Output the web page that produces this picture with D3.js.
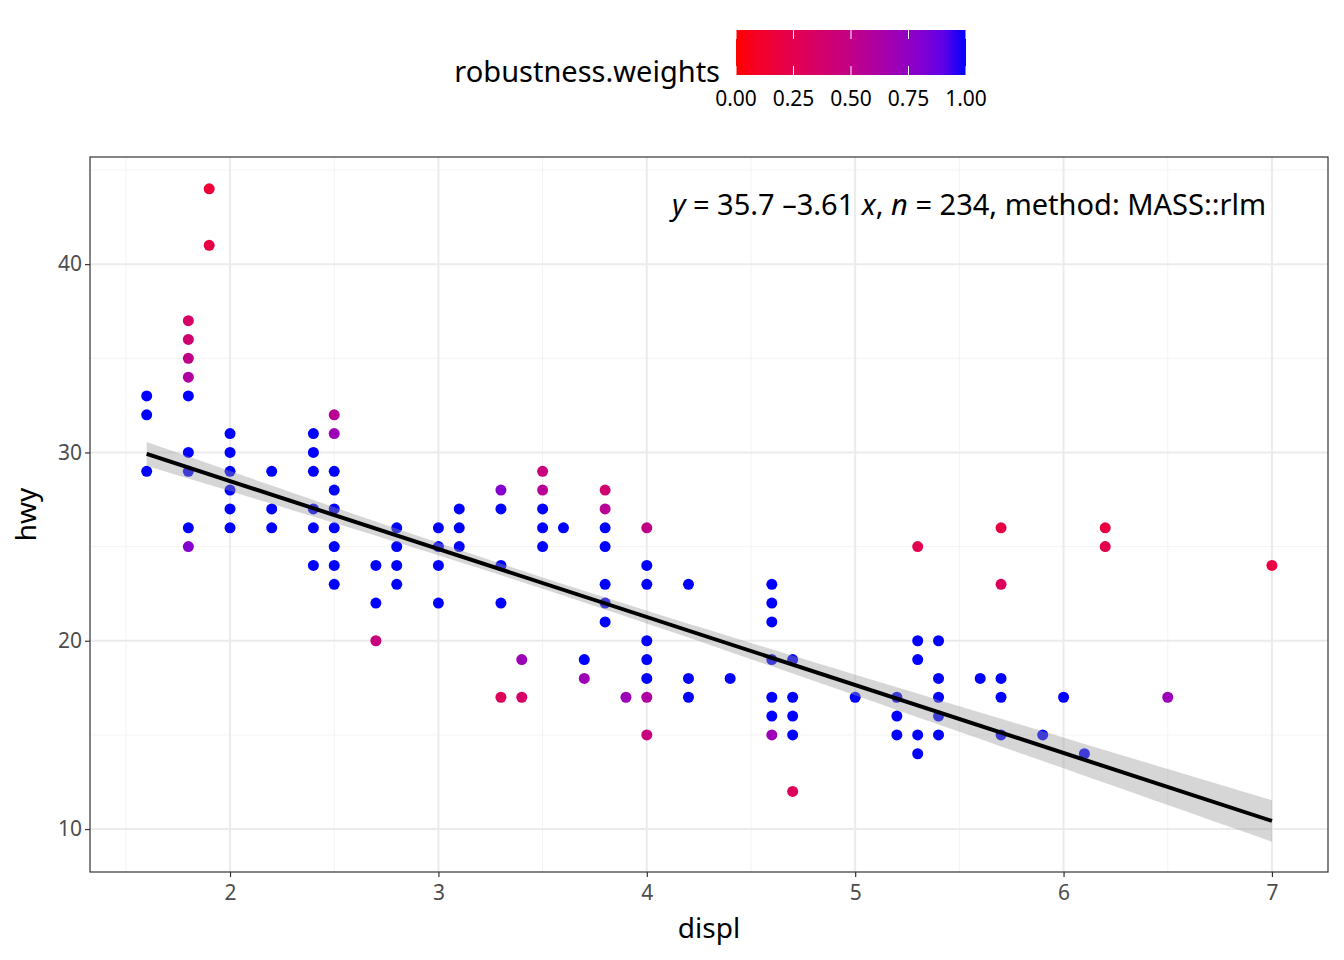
<!DOCTYPE html>
<html><head><meta charset="utf-8">
<script src="https://cdn.jsdelivr.net/npm/d3@7"></script>
<style>body{margin:0;background:#fff}text{font-family:"Noto Sans",sans-serif}</style>
</head><body><svg id="c" width="1344" height="960"></svg>
<script>
// displ, hwy, robustness weight
var displ = [1.6,1.6,1.6, 1.8,1.8,1.8,1.8,1.8,1.8,1.8,1.8,1.8, 1.9,1.9,
  2,2,2,2,2,2, 2.2,2.2,2.2, 2.4,2.4,2.4,2.4,2.4,2.4,
  2.5,2.5,2.5,2.5,2.5,2.5,2.5,2.5,2.5, 2.7,2.7,2.7, 2.8,2.8,2.8,2.8,
  3,3,3,3, 3.1,3.1,3.1, 3.3,3.3,3.3,3.3,3.3, 3.4,3.4, 3.5,3.5,3.5,3.5,3.5,
  3.6, 3.7,3.7, 3.8,3.8,3.8,3.8,3.8,3.8,3.8, 3.9,
  4,4,4,4,4,4,4,4, 4.2,4.2,4.2, 4.4, 4.6,4.6,4.6,4.6,4.6,4.6,4.6,
  4.7,4.7,4.7,4.7,4.7, 5, 5.2,5.2,5.2, 5.3,5.3,5.3,5.3,5.3,
  5.4,5.4,5.4,5.4,5.4, 5.6, 5.7,5.7,5.7,5.7,5.7, 5.9, 6, 6.1, 6.2,6.2, 6.5, 7];
var hwy = [33,32,29, 37,36,35,34,33,30,29,26,25, 44,41,
  31,30,29,28,27,26, 29,27,26, 31,30,29,27,26,24,
  32,31,29,28,27,26,25,24,23, 24,22,20, 26,25,24,23,
  26,25,24,22, 27,26,25, 28,27,24,22,17, 19,17, 29,28,27,26,25,
  26, 19,18, 28,27,26,25,23,22,21, 17,
  26,24,23,20,19,18,17,15, 23,18,17, 18, 23,22,21,19,17,16,15,
  19,17,16,15,12, 17, 17,16,15, 25,20,19,15,14,
  20,18,17,16,15, 18, 26,23,18,17,15, 15, 17, 14, 26,25, 17, 24];
var weight = [1,1,1, 0.35,0.4,0.5,0.6,1,1,1,1,0.8, 0.15,0.2,
  1,1,1,1,1,1, 1,1,1, 1,1,1,1,1,1,
  0.55,0.7,1,1,1,1,1,1,1, 1,1,0.45, 1,1,1,1,
  1,1,1,1, 1,1,1, 0.8,1,1,1,0.3, 0.7,0.35, 0.45,0.55,1,1,1,
  1, 1,0.7, 0.4,0.55,1,1,1,1,1, 0.7,
  0.5,1,1,1,1,1,0.6,0.45, 1,1,1, 1, 1,1,1,1,1,1,0.7,
  1,1,1,1,0.3, 1, 1,1,1, 0.25,1,1,1,1,
  1,1,1,1,1, 1, 0.2,0.3,1,1,1, 1, 1, 1, 0.2,0.25, 0.7, 0.2];
var fitIntercept = 35.7, fitSlope = -3.61;
var xTicks = [2,3,4,5,6,7], yTicks = [10,20,30,40];
var legendTicks = [0,0.25,0.5,0.75,1];

var svg = d3.select('#c');
var L = 90, R = 1328, T = 157, B = 872;
var x = d3.scaleLinear().domain([1.328, 7.269]).range([L, R]);
var y = d3.scaleLinear().domain([7.72, 45.69]).range([B, T]);
var col = d3.scaleLinear().domain([0,1]).range(['red','blue']).interpolate(d3.interpolateLab);

var g = svg.append('g');
[1.5,2.5,3.5,4.5,5.5,6.5].forEach(function(v){
  g.append('line').attr('x1',x(v)).attr('x2',x(v)).attr('y1',T).attr('y2',B).attr('stroke','#f3f3f3').attr('stroke-width',1);
});
[15,25,35,45].forEach(function(v){
  g.append('line').attr('y1',y(v)).attr('y2',y(v)).attr('x1',L).attr('x2',R).attr('stroke','#f3f3f3').attr('stroke-width',1);
});
xTicks.forEach(function(v){
  g.append('line').attr('x1',x(v)).attr('x2',x(v)).attr('y1',T).attr('y2',B).attr('stroke','#ebebeb').attr('stroke-width',2);
});
yTicks.forEach(function(v){
  g.append('line').attr('y1',y(v)).attr('y2',y(v)).attr('x1',L).attr('x2',R).attr('stroke','#ebebeb').attr('stroke-width',2);
});

var pts = displ.map(function(d,i){ return {x:d, y:hwy[i], w:weight[i]}; });
pts.sort(function(a,b){ return b.w - a.w; });
svg.selectAll('circle.p').data(pts).enter().append('circle')
  .attr('cx',function(d){return x(d.x);}).attr('cy',function(d){return y(d.y);})
  .attr('r',5.5).attr('fill',function(d){return col(d.w);});

// confidence band of the fit
var xs = d3.range(1.6, 7.001, 0.1);
function se(v){ return Math.sqrt(0.09 + 0.09*(v-3.47)*(v-3.47)); }
function fit(v){ return fitIntercept + fitSlope*v; }
svg.append('path').datum(xs)
  .attr('d', d3.area().x(function(v){return x(v);}).y0(function(v){return y(fit(v)-se(v));}).y1(function(v){return y(fit(v)+se(v));}))
  .attr('fill','#999').attr('opacity',0.4);
svg.append('line').attr('x1',x(1.6)).attr('y1',y(fit(1.6))).attr('x2',x(7)).attr('y2',y(fit(7)))
  .attr('stroke','#000').attr('stroke-width',4);

svg.append('rect').attr('x',L).attr('y',T).attr('width',R-L).attr('height',B-T)
  .attr('fill','none').attr('stroke','#333').attr('stroke-width',1.2);

var xa = svg.append('g').attr('transform','translate(0,'+B+')')
  .call(d3.axisBottom(x).tickValues(xTicks).tickSize(5).tickFormat(d3.format('d')));
var ya = svg.append('g').attr('transform','translate('+L+',0)')
  .call(d3.axisLeft(y).tickValues(yTicks).tickSize(5).tickFormat(d3.format('d')));
[xa,ya].forEach(function(a){
  a.select('.domain').remove();
  a.selectAll('line').attr('stroke','#333').attr('stroke-width',1.2);
  a.selectAll('text').attr('fill','#4d4d4d').style('font-size','21px');
});
xa.selectAll('text').attr('dy','0.95em');

svg.append('text').attr('x',(L+R)/2).attr('y',938).attr('text-anchor','middle').style('font-size','28px').text('displ');
svg.append('text').attr('transform','translate(36,'+((T+B)/2)+') rotate(-90)').attr('text-anchor','middle').style('font-size','28px').text('hwy');

var ann = svg.append('text').attr('x',1266).attr('y',215).attr('text-anchor','end').style('font-size','29px');
ann.append('tspan').style('font-style','italic').text('y');
ann.append('tspan').text(' = 35.7 \u20133.61 ');
ann.append('tspan').style('font-style','italic').text('x');
ann.append('tspan').text(', ');
ann.append('tspan').style('font-style','italic').text('n');
ann.append('tspan').text(' = 234, method: MASS::rlm');

// legend
var lx = d3.scaleLinear().domain([0,1]).range([736, 966]);
var grad = svg.append('defs').append('linearGradient').attr('id','gr');
d3.range(0,1.001,0.1).forEach(function(v){
  grad.append('stop').attr('offset',(v*100)+'%').attr('stop-color',col(v));
});
svg.append('rect').attr('x',736).attr('y',30).attr('width',230).attr('height',45).attr('fill','url(#gr)');
legendTicks.forEach(function(v){
  svg.append('line').attr('x1',lx(v)).attr('x2',lx(v)).attr('y1',30).attr('y2',39).attr('stroke','#fff').attr('stroke-width',1);
  svg.append('line').attr('x1',lx(v)).attr('x2',lx(v)).attr('y1',66).attr('y2',75).attr('stroke','#fff').attr('stroke-width',1);
  svg.append('text').attr('x',lx(v)).attr('y',106).attr('text-anchor','middle').style('font-size','21px').text(d3.format('.2f')(v));
});
svg.append('text').attr('x',720).attr('y',82).attr('text-anchor','end').style('font-size','29px').text('robustness.weights');
</script></body></html>
